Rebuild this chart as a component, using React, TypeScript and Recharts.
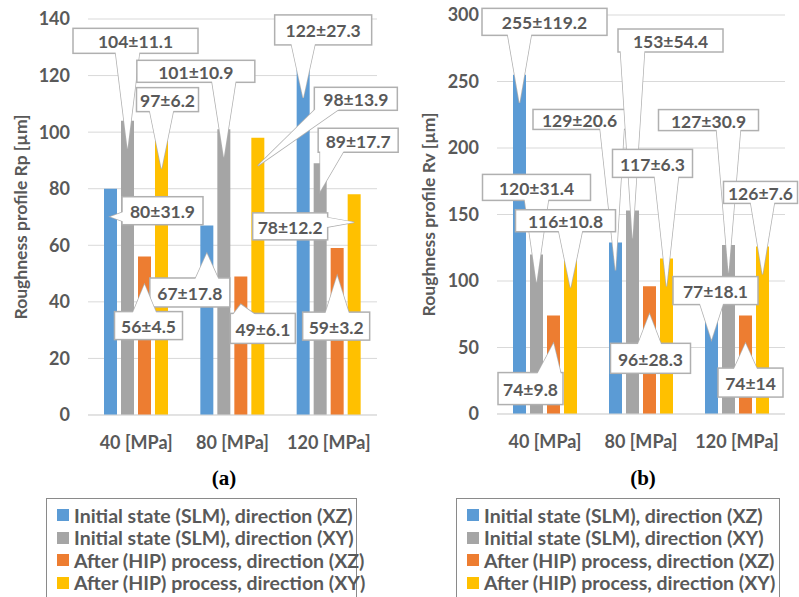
import { BarChart, Bar, XAxis, YAxis, CartesianGrid, LabelList, Legend } from "recharts";

const categories = ["40 [MPa]", "80 [MPa]", "120 [MPa]"];
const seriesNames = [
  "Initial state (SLM), direction (XZ)",
  "Initial state (SLM), direction (XY)",
  "After (HIP) process, direction (XZ)",
  "After (HIP) process, direction (XY)",
];
const colors = ["#5B9BD5", "#A5A5A5", "#ED7D31", "#FFC000"];

// (a) roughness profile Rp [µm]
const rpSlmXZ = [80, 67, 122];
const rpSlmXZSd = [31.9, 17.8, 27.3];
const rpSlmXY = [104, 101, 89];
const rpSlmXYSd = [11.1, 10.9, 17.7];
const rpHipXZ = [56, 49, 59];
const rpHipXZSd = [4.5, 6.1, 3.2];
const rpHipXY = [97, 98, 78];
const rpHipXYSd = [6.2, 13.9, 12.2];
const rpTicks = [0, 20, 40, 60, 80, 100, 120, 140];

// (b) roughness profile Rv [µm]
const rvSlmXZ = [255, 129, 77];
const rvSlmXZSd = [119.2, 20.6, 18.1];
const rvSlmXY = [120, 153, 127];
const rvSlmXYSd = [31.4, 54.4, 30.9];
const rvHipXZ = [74, 96, 74];
const rvHipXZSd = [9.8, 28.3, 14];
const rvHipXY = [116, 117, 126];
const rvHipXYSd = [10.8, 6.3, 7.6];
const rvTicks = [0, 50, 100, 150, 200, 250, 300];

const FONT = "Lato, 'Open Sans', sans-serif";
const TEXT = "#595959";
const TIP_DROP = 28;

type Box = { dx: number; dy: number; w: number; h: number };

// callout box placement, relative to the top centre of each bar
const rpBoxes: Box[][] = [
  [{ dx: 52, dy: 22, w: 81, h: 28 }, { dx: -17, dy: 67, w: 80, h: 29 }, { dx: 20, dy: -40, w: 97, h: 30 }],
  [{ dx: 8, dy: -80, w: 125, h: 25 }, { dx: -28, dy: -58, w: 118, h: 22 }, { dx: 38, dy: -23, w: 80, h: 24 }],
  [{ dx: 4, dy: 69, w: 68, h: 28 }, { dx: 22, dy: 52, w: 65, h: 30 }, { dx: -1, dy: 78, w: 67, h: 28 }],
  [{ dx: 6, dy: -41, w: 62, h: 24 }, { dx: 98, dy: -39, w: 83, h: 23 }, { dx: -64, dy: 32, w: 75, h: 27 }],
];
const rvBoxes: Box[][] = [
  [{ dx: 25, dy: -53, w: 125, h: 27 }, { dx: -36, dy: -123, w: 93, h: 20 }, { dx: 4, dy: -21, w: 85, h: 28 }],
  [{ dx: 0, dy: -67, w: 108, h: 26 }, { dx: 38, dy: -170, w: 105, h: 23 }, { dx: -20, dy: -125, w: 100, h: 21 }],
  [{ dx: -23, dy: 73, w: 65, h: 32 }, { dx: 1, dy: 72, w: 80, h: 30 }, { dx: 5, dy: 67, w: 65, h: 29 }],
  [{ dx: -5, dy: -39, w: 100, h: 22 }, { dx: -14, dy: -95, w: 80, h: 28 }, { dx: -2, dy: -54, w: 74, h: 22 }],
];

function buildRows(series: number[][], sds: number[][]) {
  return categories.map((c, i) => {
    const row: any = { cat: c };
    series.forEach((s, k) => {
      row["s" + k] = s[i];
      row["e" + k] = sds[k][i];
    });
    return row;
  });
}

const rpData = buildRows([rpSlmXZ, rpSlmXY, rpHipXZ, rpHipXY], [rpSlmXZSd, rpSlmXYSd, rpHipXZSd, rpHipXYSd]);
const rvData = buildRows([rvSlmXZ, rvSlmXY, rvHipXZ, rvHipXY], [rvSlmXZSd, rvSlmXYSd, rvHipXZSd, rvHipXYSd]);

const clamp = (v: number, a: number, b: number) => Math.max(a, Math.min(b, v));

function makeCallout(boxes: Box[], sds: number[]) {
  return (props: any) => {
    const { x, y, width, index, value } = props;
    if (x == null || index == null) return null;
    const b = boxes[index];
    const cx = x + width / 2;
    const tx = cx;
    const ty = y + TIP_DROP;
    const bx = cx + b.dx;
    const by = y + b.dy;
    const l = bx - b.w / 2;
    const r = bx + b.w / 2;
    const t = by - b.h / 2;
    const btm = by + b.h / 2;
    let p1: number[];
    let p2: number[];
    if (ty > btm) {
      const px = clamp(tx, l + 14, r - 14);
      p1 = [px - 12, btm - 2];
      p2 = [px + 12, btm - 2];
    } else if (ty < t) {
      const px = clamp(tx, l + 14, r - 14);
      p1 = [px - 12, t + 2];
      p2 = [px + 12, t + 2];
    } else if (tx < l) {
      const py = clamp(ty, t + 7, btm - 7);
      p1 = [l + 2, py - 5];
      p2 = [l + 2, py + 5];
    } else {
      const py = clamp(ty, t + 7, btm - 7);
      p1 = [r - 2, py - 5];
      p2 = [r - 2, py + 5];
    }
    const wedge = `M${p1[0]},${p1[1]} L${tx},${ty} L${p2[0]},${p2[1]} Z`;
    return (
      <g key={"co" + index}>
        <path d={wedge} fill="#fff" stroke="#B0B0B0" strokeWidth={1.5} />
        <rect x={l} y={t} width={b.w} height={b.h} fill="#fff" stroke="#B0B0B0" strokeWidth={1.5} />
        <path d={wedge} fill="#fff" stroke="none" />
        <text x={bx} y={by + 1} textAnchor="middle" dominantBaseline="central" fill={TEXT}
          fontFamily={FONT} fontWeight={700} fontSize={17.5}>
          {`${value}±${sds[index]}`}
        </text>
      </g>
    );
  };
}

function LegendBox({ letter, letterX, boxLeft, boxWidth }: any) {
  return (
    <div style={{ position: "relative", width: 400, height: 140 }}>
      <div style={{ position: "absolute", left: letterX - 30, width: 60, top: 0, textAlign: "center",
        fontFamily: "'Liberation Serif', serif", fontWeight: 700, fontSize: 21, color: "#000" }}>
        {letter}
      </div>
      <div style={{ position: "absolute", left: boxLeft, top: 32, width: boxWidth, height: 110,
        border: "1px solid #8A8A8A", boxSizing: "border-box", background: "#fff", paddingTop: 5 }}>
        {seriesNames.map((n, i) => (
          <div key={n} style={{ display: "flex", alignItems: "center", height: 22.5, paddingLeft: 10 }}>
            <span style={{ width: 12, height: 12, background: colors[i], display: "inline-block", marginRight: 5, flex: "none" }} />
            <span style={{ fontFamily: FONT, fontWeight: 700, fontSize: 19.5, color: TEXT, whiteSpace: "nowrap" }}>{n}</span>
          </div>
        ))}
      </div>
    </div>
  );
}

function Panel(p: any) {
  return (
    <BarChart width={p.width} height={597} data={p.data} margin={p.margin}
      barSize={13} barGap={4}>
      <CartesianGrid vertical={false} stroke="#D9D9D9" />
      <XAxis dataKey="cat" height={40} tickLine={false} axisLine={{ stroke: "#D9D9D9" }}
        tickSize={0} tickMargin={21}
        tick={{ fill: TEXT, fontFamily: FONT, fontWeight: 700, fontSize: 18 }} />
      <YAxis width={p.yWidth} domain={[0, p.ticks[p.ticks.length - 1]]} ticks={p.ticks} interval={0}
        tickLine={false} axisLine={false} tickSize={0} tickMargin={18}
        tick={{ fill: TEXT, fontFamily: FONT, fontWeight: 700, fontSize: 18 }}
        label={{
          content: (lp: any) => {
            const vb = lp.viewBox;
            const lx = vb.x + p.titleDx;
            const ly = vb.y + vb.height / 2;
            return (
              <text x={lx} y={ly} transform={`rotate(-90, ${lx}, ${ly})`} textAnchor="middle"
                dominantBaseline="central" fill={TEXT} fontFamily={FONT} fontWeight={700} fontSize={17.5}>
                {p.title}
              </text>
            );
          },
        }} />
      {colors.map((c, k) => (
        <Bar key={k} dataKey={"s" + k} name={seriesNames[k]} fill={c} isAnimationActive={false}>
          <LabelList dataKey={"s" + k} content={makeCallout(p.boxes[k], p.sds[k])} />
        </Bar>
      ))}
      <Legend layout="vertical" align="center" verticalAlign="middle"
        wrapperStyle={{ left: 0, top: 466, width: 400 }}
        content={() => <LegendBox letter={p.letter} letterX={p.letterX} boxLeft={p.boxLeft} boxWidth={p.boxWidth} />} />
    </BarChart>
  );
}

export default function App() {
  return (
    <div style={{ position: "absolute", left: 0, top: 0, width: 799, height: 597, background: "#fff", overflow: "hidden" }}>
      <div style={{ position: "absolute", left: 0, top: 0 }}>
        <Panel width={400} data={rpData} ticks={rpTicks} yWidth={78}
          margin={{ top: 19, right: 23, bottom: 142, left: 10 }}
          title="Roughness profile Rp [µm]" titleDx={10}
          boxes={rpBoxes} sds={[rpSlmXZSd, rpSlmXYSd, rpHipXZSd, rpHipXYSd]}
          letter="(a)" letterX={224} boxLeft={46} boxWidth={311} />
      </div>
      <div style={{ position: "absolute", left: 400, top: 0 }}>
        <Panel width={399} data={rvData} ticks={rvTicks} yWidth={87}
          margin={{ top: 15, right: 14, bottom: 143, left: 10 }}
          title="Roughness profile Rv [µm]" titleDx={18}
          boxes={rvBoxes} sds={[rvSlmXZSd, rvSlmXYSd, rvHipXZSd, rvHipXYSd]}
          letter="(b)" letterX={243} boxLeft={56} boxWidth={324} />
      </div>
    </div>
  );
}
